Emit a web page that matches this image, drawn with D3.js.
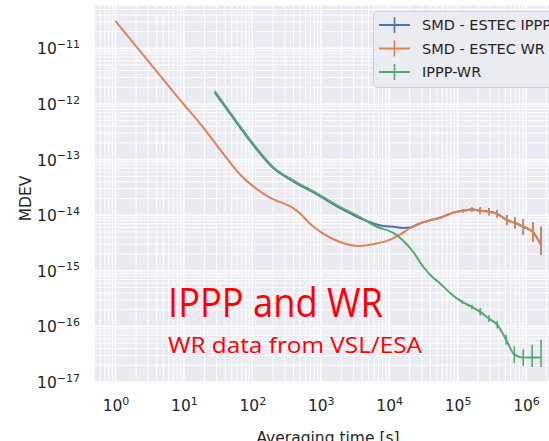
<!DOCTYPE html>
<html><head><meta charset="utf-8">
<script src="https://cdn.jsdelivr.net/npm/d3@7"></script>
<style>body{margin:0;background:#fff}svg{display:block}</style>
</head><body>
<svg id="c" width="549" height="441"></svg>
<script>
// ---------- data ----------
const seriesNames = ["SMD - ESTEC IPPP", "SMD - ESTEC WR", "IPPP-WR"];
const seriesColors = ["#4C72B0", "#DD8452", "#55A868"];

const xTickValues = [1, 10, 100, 1e3, 1e4, 1e5, 1e6];
const xTickExponents = ["0", "1", "2", "3", "4", "5", "6"];
const yTickValues = [1e-17, 1e-16, 1e-15, 1e-14, 1e-13, 1e-12, 1e-11];
const yTickExponents = ["\u221217", "\u221216", "\u221215", "\u221214", "\u221213", "\u221212", "\u221211"];

// SMD - ESTEC IPPP
const tauIPPP = [28.2, 52.5, 102, 200, 389, 891, 1900, 3700, 6600, 8900, 11500, 15800, 20400, 28000, 40000, 55000, 85000, 120000, 162000, 214000, 288000, 380000, 525000, 690000, 912000, 1260000, 1660000];
const mdevIPPP = [1.62e-12, 5.6e-13, 1.86e-13, 7.1e-14, 4.1e-14, 2.35e-14, 1.35e-14, 8.9e-15, 6.8e-15, 6.3e-15, 6.2e-15, 5.9e-15, 6.0e-15, 7.1e-15, 8.1e-15, 9.0e-15, 1.1e-14, 1.2e-14, 1.26e-14, 1.21e-14, 1.16e-14, 1.06e-14, 8.2e-15, 7.3e-15, 6.2e-15, 5.0e-15, 2.9e-15];
const errUpIPPP = [0,0,0,0,0,0,0,0,0,0,0,0,0,0,0,0,0.02,0.03,0.04,0.06,0.065,0.07,0.09,0.10,0.14,0.18,0.33];
const errDnIPPP = [0,0,0,0,0,0,0,0,0,0,0,0,0,0,0,0,0.02,0.03,0.04,0.06,0.065,0.07,0.09,0.10,0.14,0.18,0.18];

// SMD - ESTEC WR
const tauWR = [1, 3.16, 10, 17.4, 34, 66, 100, 145, 190, 250, 355, 500, 690, 1070, 1900, 3700, 6600, 10200, 14500, 20400, 28000, 40000, 55000, 85000, 120000, 162000, 214000, 288000, 380000, 525000, 690000, 912000, 1260000, 1660000];
const mdevWR = [3.1e-11, 5.5e-12, 9.8e-13, 4.4e-13, 1.5e-13, 5.4e-14, 3.4e-14, 2.45e-14, 2.0e-14, 1.74e-14, 1.45e-14, 1.07e-14, 7.1e-15, 4.7e-15, 3.3e-15, 2.8e-15, 3.1e-15, 3.6e-15, 4.5e-15, 5.9e-15, 7.1e-15, 8.1e-15, 9.0e-15, 1.1e-14, 1.2e-14, 1.26e-14, 1.2e-14, 1.15e-14, 1.05e-14, 8.1e-15, 7.2e-15, 6.2e-15, 5.0e-15, 2.9e-15];
const errUpWR = [0,0,0,0,0,0,0,0,0,0,0,0,0,0,0,0,0,0,0,0,0,0,0,0.02,0.03,0.04,0.06,0.065,0.07,0.09,0.10,0.14,0.18,0.33];
const errDnWR = [0,0,0,0,0,0,0,0,0,0,0,0,0,0,0,0,0,0,0,0,0,0,0,0.02,0.03,0.04,0.06,0.065,0.07,0.09,0.10,0.14,0.18,0.18];

// IPPP-WR
const tauIW = [28.2, 52.5, 102, 200, 389, 891, 1900, 3700, 6600, 11500, 15800, 22400, 31600, 43600, 55000, 77600, 117000, 162000, 214000, 288000, 380000, 513000, 676000, 912000, 1230000, 1660000];
const mdevIW = [1.7e-12, 5.9e-13, 1.95e-13, 7.4e-14, 4.27e-14, 2.45e-14, 1.41e-14, 9.3e-15, 6.2e-15, 4.8e-15, 3.55e-15, 2.2e-15, 1.17e-15, 7.6e-16, 6.0e-16, 4.0e-16, 2.75e-16, 2.24e-16, 1.82e-16, 1.38e-16, 1.07e-16, 5.75e-17, 3.1e-17, 2.75e-17, 2.75e-17, 2.75e-17];
const errUpIW = [0,0,0,0,0,0,0,0,0,0,0,0,0,0,0,0,0.03,0.04,0.07,0.06,0.07,0.09,0.15,0.15,0.23,0.32];
const errDnIW = [0,0,0,0,0,0,0,0,0,0,0,0,0,0,0,0,0.03,0.04,0.07,0.06,0.07,0.09,0.15,0.15,0.17,0.17];

const xLabel = "Averaging time [s]";
const yLabel = "MDEV";
const title1 = "IPPP and WR";
const title2 = "WR data from VSL/ESA";

// ---------- layout ----------
const L = 95, R = 563, T = 5, B = 382;
const svg = d3.select("#c");
const font = "'DejaVu Sans', sans-serif";
const textColor = "#262626";

const x = d3.scaleLog().domain([1, 1e6]).range([115.5, 526]);
const y = d3.scaleLog().domain([1e-17, 1e-11]).range([382, 48.4]);

svg.append("rect").attr("x", L).attr("y", T).attr("width", R - L).attr("height", B - T).attr("fill", "#EAEAF2");

svg.append("defs").append("clipPath").attr("id", "clip")
  .append("rect").attr("x", L).attr("y", T).attr("width", R - L).attr("height", B - T);

// gridlines
const grid = svg.append("g").attr("clip-path", "url(#clip)");
const xGrid = [], yGrid = [];
for (let e = -1; e <= 7; e++) for (let m = 1; m <= 9; m++) {
  const v = m * Math.pow(10, e);
  const px = x(v);
  if (px >= L && px <= R) xGrid.push({v, major: m === 1});
}
for (let e = -18; e <= -10; e++) for (let m = 1; m <= 9; m++) {
  const v = m * Math.pow(10, e);
  const py = y(v);
  if (py >= T && py <= B) yGrid.push({v, major: m === 1});
}
grid.selectAll(".gx").data(xGrid).join("line")
  .attr("x1", d => x(d.v)).attr("x2", d => x(d.v)).attr("y1", T).attr("y2", B)
  .attr("stroke", "#fff").attr("stroke-width", d => d.major ? 1.6 : 1.0);
grid.selectAll(".gy").data(yGrid).join("line")
  .attr("y1", d => y(d.v)).attr("y2", d => y(d.v)).attr("x1", L).attr("x2", R)
  .attr("stroke", "#fff").attr("stroke-width", d => d.major ? 1.6 : 1.0);

// axes
const xAxis = svg.append("g").attr("transform", `translate(0,${B})`)
  .call(d3.axisBottom(x).tickValues(xTickValues).tickSize(0).tickPadding(0));
xAxis.select(".domain").remove();
xAxis.selectAll(".tick text").each(function(d, i) {
  const t = d3.select(this).text("").attr("y", 29).attr("dy", null)
    .attr("font-family", font).attr("font-size", 15.5).attr("fill", textColor);
  t.append("tspan").text("10");
  t.append("tspan").attr("dy", -6.5).attr("font-size", 11).text(xTickExponents[i]);
});

const yAxis = svg.append("g").attr("transform", `translate(${L},0)`)
  .call(d3.axisLeft(y).tickValues(yTickValues).tickSize(0).tickPadding(15));
yAxis.select(".domain").remove();
yAxis.selectAll(".tick text").each(function(d, i) {
  const t = d3.select(this).text("").attr("y", 5.5).attr("dy", null)
    .attr("font-family", font).attr("font-size", 15.5).attr("fill", textColor);
  t.append("tspan").text("10");
  t.append("tspan").attr("dy", -6.5).attr("font-size", 11).text(yTickExponents[i]);
});

svg.append("text").attr("x", 328).attr("y", 443).attr("text-anchor", "middle")
  .attr("font-family", font).attr("font-size", 15.5).attr("fill", textColor).text(xLabel);
svg.append("text").attr("transform", "translate(31,198.5) rotate(-90)").attr("text-anchor", "middle")
  .attr("font-family", font).attr("font-size", 15.5).attr("fill", textColor).text(yLabel);

// series
const series = [
  {tau: tauIPPP, mdev: mdevIPPP, up: errUpIPPP, dn: errDnIPPP},
  {tau: tauWR, mdev: mdevWR, up: errUpWR, dn: errDnWR},
  {tau: tauIW, mdev: mdevIW, up: errUpIW, dn: errDnIW}
];
const plot = svg.append("g").attr("clip-path", "url(#clip)");
const line = d3.line().x(d => x(d.t)).y(d => y(d.v)).curve(d3.curveMonotoneX);
series.forEach((s, k) => {
  const pts = s.tau.map((t, i) => ({t, v: s.mdev[i], up: s.up[i], dn: s.dn[i]}));
  plot.append("path").datum(pts).attr("d", line).attr("fill", "none")
    .attr("stroke", seriesColors[k]).attr("stroke-width", 2).attr("stroke-linejoin", "round");
  plot.selectAll(null).data(pts.filter(p => p.up > 0 || p.dn > 0)).join("line")
    .attr("x1", d => x(d.t)).attr("x2", d => x(d.t))
    .attr("y1", d => y(d.v * Math.pow(10, d.up))).attr("y2", d => y(d.v / Math.pow(10, d.dn)))
    .attr("stroke", seriesColors[k]).attr("stroke-width", 1.6);
});

// legend
const lg = svg.append("g");
lg.append("rect").attr("x", 373.5).attr("y", 11.5).attr("width", 200).attr("height", 76).attr("rx", 4)
  .attr("fill", "#EAEAF2").attr("fill-opacity", 0.92).attr("stroke", "#cfcfd6");
seriesNames.forEach((n, k) => {
  const cy = 25 + k * 23.5;
  lg.append("line").attr("x1", 379).attr("x2", 410).attr("y1", cy).attr("y2", cy)
    .attr("stroke", seriesColors[k]).attr("stroke-width", 2);
  lg.append("line").attr("x1", 394.5).attr("x2", 394.5).attr("y1", cy - 8).attr("y2", cy + 8)
    .attr("stroke", seriesColors[k]).attr("stroke-width", 1.6);
  lg.append("text").attr("x", 422).attr("y", cy + 5.3).attr("font-family", font)
    .attr("font-size", 14.5).attr("fill", textColor).text(n);
});

// red annotations
svg.append("text").attr("x", 168).attr("y", 317).attr("font-family", "'Open Sans', sans-serif")
  .attr("font-size", 40.5).attr("fill", "#FF0000").attr("textLength", 215).attr("lengthAdjust", "spacingAndGlyphs").text(title1);
svg.append("text").attr("x", 168).attr("y", 353).attr("font-family", "'Open Sans', sans-serif")
  .attr("font-size", 22.4).attr("fill", "#FF0000").attr("textLength", 254).attr("lengthAdjust", "spacingAndGlyphs").text(title2);
</script>
</body></html>
